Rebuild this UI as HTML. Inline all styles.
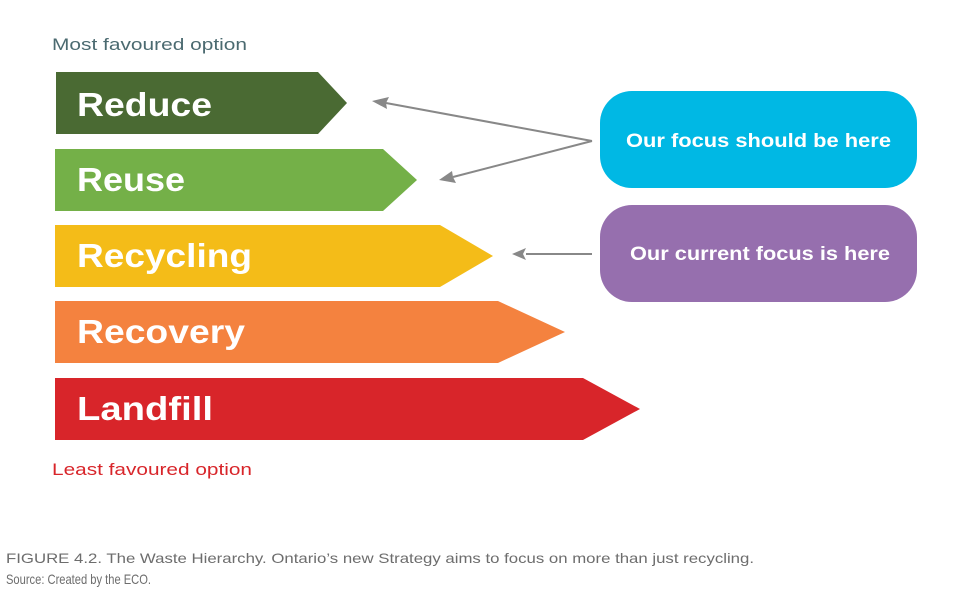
<!DOCTYPE html>
<html><head><meta charset="utf-8"><style>html,body{margin:0;padding:0;background:#fff;width:978px;height:596px;overflow:hidden}</style></head>
<body>
<svg width="978" height="596" xmlns="http://www.w3.org/2000/svg" font-family="Liberation Sans, sans-serif">
<defs><marker id="a" markerWidth="14" markerHeight="10" refX="1" refY="5" orient="auto" markerUnits="userSpaceOnUse"><path d="M14,5 L0,0 L4,5 L0,10 Z" fill="#888" transform="rotate(180 7 5)"/></marker></defs>
<text x="52" y="50" font-size="17" fill="#4b6a70" textLength="195" lengthAdjust="spacingAndGlyphs">Most favoured option</text>
<polygon points="56,72 318,72 347,103 318,134 56,134" fill="#4a6a33"/>
<polygon points="55,149 383,149 417,180 383,211 55,211" fill="#74b048"/>
<polygon points="55,225 440,225 493,256 440,287 55,287" fill="#f4bc18"/>
<polygon points="55,301 498,301 565,332 498,363 55,363" fill="#f4823f"/>
<polygon points="55,378 583,378 640,409 583,440 55,440" fill="#d8252a"/>
<g fill="#fff" font-weight="bold" font-size="33">
<text x="77" y="116" textLength="135" lengthAdjust="spacingAndGlyphs">Reduce</text>
<text x="77" y="191" textLength="108" lengthAdjust="spacingAndGlyphs">Reuse</text>
<text x="77" y="267" textLength="175" lengthAdjust="spacingAndGlyphs">Recycling</text>
<text x="77" y="343" textLength="168" lengthAdjust="spacingAndGlyphs">Recovery</text>
<text x="77" y="420" textLength="136" lengthAdjust="spacingAndGlyphs">Landfill</text>
</g>
<rect x="600" y="91" width="317" height="97" rx="32" fill="#00b8e4"/>
<rect x="600" y="205" width="317" height="97" rx="32" fill="#966fae"/>
<g fill="#fff" font-weight="bold" font-size="19">
<text x="626" y="147" textLength="265" lengthAdjust="spacingAndGlyphs">Our focus should be here</text>
<text x="630" y="260" textLength="260" lengthAdjust="spacingAndGlyphs">Our current focus is here</text>
</g>
<g stroke="#888" stroke-width="2" fill="none">
<line x1="592" y1="141" x2="386" y2="103"/>
<line x1="592" y1="141" x2="453" y2="177"/>
<line x1="592" y1="254" x2="526" y2="254"/>
</g>
<g fill="#888">
<polygon points="372,101 389,97 386,103 387,109"/>
<polygon points="439,180 452,171 453,177 456,183"/>
<polygon points="512,254 526,248 523,254 526,260"/>
</g>
<text x="52" y="475" font-size="17" fill="#d8252a" textLength="200" lengthAdjust="spacingAndGlyphs">Least favoured option</text>
<g font-size="14" fill="#6d6d6d">
<text x="6" y="563" textLength="748" lengthAdjust="spacingAndGlyphs">FIGURE 4.2. The Waste Hierarchy. Ontario’s new Strategy aims to focus on more than just recycling.</text>
<text x="6" y="584" textLength="145" lengthAdjust="spacingAndGlyphs">Source: Created by the ECO.</text>
</g>
</svg>
</body></html>
